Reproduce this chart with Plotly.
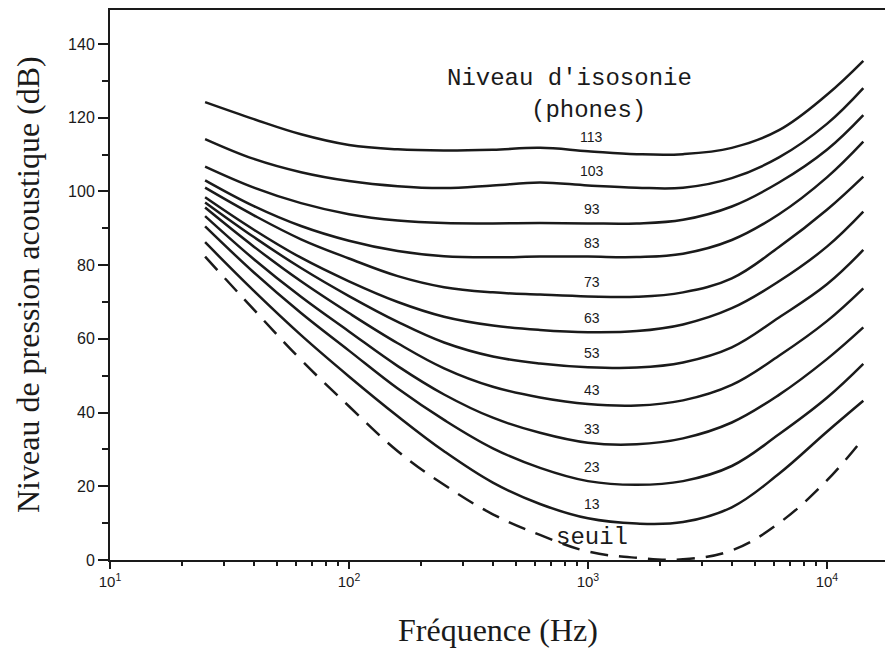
import numpy as np
import plotly.graph_objects as go

# Frequency grid (Hz), evenly spaced on the log axis, shared by all contours
freqs = [25, 40, 63, 100, 160, 250, 400, 630, 1000, 1600, 2500, 4000, 6300, 10000, 14200]

# Loudness level of each contour (phones)
phones = [113, 103, 93, 83, 73, 63, 53, 43, 33, 23, 13]

# Sound pressure level (dB) along each contour
spl_113 = [124.2, 119.6, 115.5, 112.6, 111.4, 111.1, 111.3, 111.8, 110.9, 110.1, 110.1, 111.8, 116.6, 126.2, 135.4]
spl_103 = [114.2, 108.8, 105.2, 102.8, 101.4, 100.9, 101.6, 102.4, 101.6, 101.0, 101.0, 103.6, 109.2, 118.3, 128.0]
spl_93 = [106.7, 101.0, 96.8, 93.8, 92.1, 91.4, 91.3, 91.4, 91.3, 91.3, 92.3, 95.9, 102.4, 111.3, 120.7]
spl_83 = [103.0, 96.0, 90.6, 86.6, 83.8, 82.4, 82.1, 82.3, 82.3, 82.2, 83.1, 86.8, 93.8, 103.8, 113.5]
spl_73 = [101.0, 93.5, 87.0, 81.8, 77.0, 74.0, 72.6, 72.0, 71.5, 71.4, 72.6, 76.4, 84.9, 95.0, 104.0]
spl_63 = [98.4, 89.6, 82.0, 75.6, 70.0, 66.0, 63.6, 62.4, 61.8, 62.1, 63.9, 68.3, 75.6, 85.0, 94.5]
spl_53 = [97.0, 87.6, 79.2, 71.6, 64.6, 59.0, 55.2, 53.3, 52.3, 52.2, 53.6, 57.7, 65.8, 74.8, 84.1]
spl_43 = [95.6, 85.0, 75.6, 67.0, 58.8, 52.0, 47.0, 44.1, 42.3, 41.9, 43.3, 47.5, 55.4, 64.8, 73.7]
spl_33 = [93.3, 81.6, 71.4, 62.0, 52.6, 44.9, 38.6, 34.5, 31.8, 31.4, 33.0, 37.3, 44.8, 54.5, 63.1]
spl_23 = [90.5, 78.0, 67.0, 56.8, 46.5, 38.0, 30.3, 25.0, 21.4, 20.4, 21.4, 25.5, 34.1, 44.0, 53.2]
spl_13 = [86.2, 73.0, 61.0, 49.8, 39.0, 29.5, 21.0, 15.2, 11.3, 9.9, 10.3, 14.3, 23.4, 34.8, 43.2]

contours = [spl_113, spl_103, spl_93, spl_83, spl_73, spl_63,
            spl_53, spl_43, spl_33, spl_23, spl_13]

# Hearing threshold (seuil d'audition)
seuil_spl = [82.3, 67.9, 54.3, 41.7, 29.5, 20.4, 12.4, 6.8, 2.3, 0.6, 0.2, 2.6, 10.0, 21.6, 33.0]

# Axis ticks
y_major = [0, 20, 40, 60, 80, 100, 120, 140]
x_major = [10, 100, 1000, 10000]
x_major_text = ["10<sup>1</sup>", "10<sup>2</sup>", "10<sup>3</sup>", "10<sup>4</sup>"]
x_minor = [m * d for d in (10, 100, 1000) for m in range(2, 10)]

label_freq = 1000
ink = "#1a1a1a"

fig = go.Figure()

for level, spl in zip(phones, contours):
    fig.add_trace(go.Scatter(
        x=freqs, y=spl, mode="lines", name=f"{level}",
        line=dict(color=ink, width=2.5, shape="spline", smoothing=1.1),
        showlegend=False, hoverinfo="skip",
    ))

fig.add_trace(go.Scatter(
    x=freqs, y=seuil_spl, mode="lines", name="seuil",
    line=dict(color=ink, width=2.5, dash="18px,11px", shape="spline", smoothing=1.1),
    showlegend=False, hoverinfo="skip",
))

annotations = []
i_label = freqs.index(label_freq)
for level, spl in zip(phones, contours):
    annotations.append(dict(
        x=np.log10(label_freq), y=spl[i_label], xref="x", yref="y",
        text=str(level), showarrow=False, xshift=4, yshift=14,
        xanchor="center", yanchor="middle",
        font=dict(family="Liberation Sans Narrow, Liberation Sans, Arial", size=14, color=ink),
    ))

mono = "Liberation Mono, Courier New, monospace"
serif = "Liberation Serif, Times New Roman, serif"

annotations += [
    dict(x=0.5935, y=0.876, xref="paper", yref="paper", text="Niveau d'isosonie",
         xanchor="center", yanchor="middle",
         showarrow=False, font=dict(family=mono, size=24, color=ink)),
    dict(x=0.618, y=0.818, xref="paper", yref="paper", text="(phones)",
         xanchor="center", yanchor="middle",
         showarrow=False, font=dict(family=mono, size=24, color=ink)),
    dict(x=3.017, y=6.2, xref="x", yref="y", text="seuil",
         xanchor="center", yanchor="middle",
         showarrow=False, font=dict(family=mono, size=24, color=ink)),
    dict(x=0, y=0.5, xref="paper", yref="paper", text="Niveau de pression acoustique (dB)",
         textangle=-90, showarrow=False, xanchor="center", yanchor="middle", xshift=-82,
         font=dict(family=serif, size=32, color=ink)),
    dict(x=0.5, y=0, xref="paper", yref="paper", text="Fréquence (Hz)",
         showarrow=False, xanchor="center", yanchor="middle", yshift=-70,
         font=dict(family=serif, size=32, color=ink)),
]

fig.update_layout(
    width=885, height=652,
    margin=dict(l=110, r=0, t=10, b=92),
    paper_bgcolor="white", plot_bgcolor="white",
    annotations=annotations,
    xaxis=dict(
        type="log", range=[1, np.log10(17500)],
        showgrid=False, zeroline=False,
        showline=True, linecolor=ink, linewidth=2, mirror=True,
        ticks="outside", ticklen=7, tickwidth=1.5, tickcolor=ink,
        tickvals=x_major, ticktext=x_major_text,
        tickfont=dict(family="Liberation Sans, Arial", size=15, color=ink),
        minor=dict(tickvals=x_minor, ticks="outside", ticklen=4, tickwidth=1.5, tickcolor=ink),
    ),
    yaxis=dict(
        range=[0, 149.2],
        showgrid=False, zeroline=False,
        showline=True, linecolor=ink, linewidth=2,
        ticks="outside", ticklen=10, tickwidth=1.5, tickcolor=ink,
        tickvals=y_major,
        tickfont=dict(family="Liberation Sans, Arial", size=16, color=ink),
        minor=dict(dtick=10, ticks="outside", ticklen=6, tickwidth=1.5, tickcolor=ink),
    ),
)

fig.write_html("out.html")
